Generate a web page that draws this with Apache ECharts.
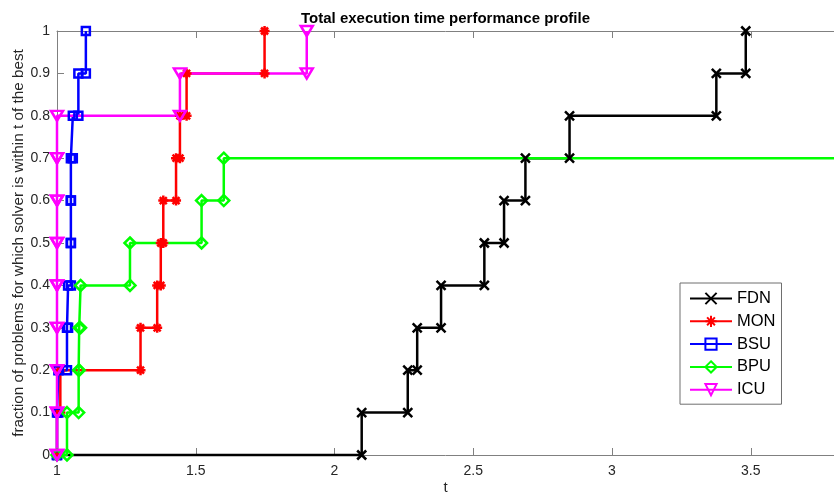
<!DOCTYPE html>
<html>
<head>
<meta charset="utf-8">
<script src="https://cdn.jsdelivr.net/npm/echarts@6/dist/echarts.min.js"></script>
<style>html,body{margin:0;padding:0;background:#fff}#c{width:834px;height:496px}</style>
</head>
<body>
<div id="c"></div>
<script>
// ---- data (performance ratios at which each problem is counted, sorted) ----
const solverNames = ['FDN', 'MON', 'BSU', 'BPU', 'ICU'];
const UNSOLVED = 10; // ratio used for problems a solver did not solve
const FDN = [2.098, 2.264, 2.298, 2.384, 2.540, 2.611, 2.688, 2.847, 3.376, 3.482];
const MON = [1.000, 1.012, 1.301, 1.361, 1.374, 1.383, 1.429, 1.443, 1.467, 1.748];
const BSU = [1.000, 1.005, 1.036, 1.040, 1.050, 1.050, 1.050, 1.057, 1.077, 1.104];
const BPU = [1.036, 1.078, 1.080, 1.085, 1.263, 1.521, 1.601, UNSOLVED, UNSOLVED, UNSOLVED];
const ICU = [1.000, 1.000, 1.000, 1.000, 1.000, 1.000, 1.000, 1.000, 1.443, 1.900];
const nProblems = 10;
const xTicks = [1, 1.5, 2, 2.5, 3, 3.5];
const yTicks = [0, 0.1, 0.2, 0.3, 0.4, 0.5, 0.6, 0.7, 0.8, 0.9, 1];
const xMin = 1, xMax = 3.8;

const ratios = { FDN, MON, BSU, BPU, ICU };

// stairs vertices (like MATLAB stairs with markers at every corner)
function stairs(ts) {
  const pts = [[xMin, 0]];
  ts.forEach((t, i) => {
    pts.push([t, i / nProblems]);
    pts.push([t, (i + 1) / nProblems]);
  });
  return pts;
}

const FONT = '"Liberation Sans", Arial, Helvetica, sans-serif';
const AX = '#808080';
const looks = {
  FDN: { color: '#000000', symbol: 'path://M0,0L10,10M10,0L0,10', size: 9 },
  MON: { color: '#ff0000', symbol: 'path://M5,0L5,10M0,5L10,5M1.5,1.5L8.5,8.5M8.5,1.5L1.5,8.5', size: 10 },
  BSU: { color: '#0000ff', symbol: 'rect', size: 8 },
  BPU: { color: '#00ff00', symbol: 'diamond', size: 11 },
  ICU: { color: '#ff00ff', symbol: 'triangle', size: [12, 10], rotate: 180 }
};

const series = solverNames.map(name => {
  const l = looks[name];
  return {
    name: name,
    type: 'line',
    data: stairs(ratios[name]),
    clip: false,
    showSymbol: true,
    symbol: l.symbol,
    symbolSize: l.size,
    symbolRotate: l.rotate || 0,
    lineStyle: { color: l.color, width: 2.5 },
    itemStyle: { color: 'rgba(255,255,255,0)', borderColor: l.color, borderWidth: 2.5 },
    emphasis: { disabled: true },
    animation: false
  };
});

const chart = echarts.init(document.getElementById('c'), null, { renderer: 'canvas' });
chart.setOption({
  animation: false,
  backgroundColor: '#ffffff',
  title: {
    text: 'Total execution time performance profile',
    left: 445.5, top: 11, padding: 0, textAlign: 'center',
    textStyle: { fontFamily: FONT, fontSize: 15, fontWeight: 'bold', color: '#000' }
  },
  grid: { left: 57, right: 0, top: 31, bottom: 41, containLabel: false, outerBoundsMode: 'none' },
  legend: {
    orient: 'vertical', left: 680, top: 283,
    padding: [7, 6, 6, 9],
    itemWidth: 42, itemHeight: 14, itemGap: 5.8,
    backgroundColor: '#ffffff', borderColor: '#6e6e6e', borderWidth: 1,
    textStyle: { fontFamily: FONT, fontSize: 16.5, lineHeight: 17, color: '#000' },
    data: solverNames
  },
  xAxis: [{
    type: 'value', min: xMin, max: xMax, interval: 0.5, position: 'bottom',
    axisLine: { show: true, onZero: false, lineStyle: { color: AX, width: 1 } },
    axisTick: { show: true, inside: true, length: 7, customValues: xTicks, lineStyle: { color: AX } },
    axisLabel: { customValues: xTicks, fontFamily: FONT, fontSize: 14, color: '#262626', margin: 9 },
    splitLine: { show: false },
    name: 't', nameLocation: 'middle', nameGap: 25, nameMoveOverlap: false,
    nameTextStyle: { fontFamily: FONT, fontSize: 15, color: '#262626' }
  }, {
    type: 'value', min: xMin, max: xMax, interval: 0.5, position: 'top',
    axisLine: { show: true, onZero: false, lineStyle: { color: AX, width: 1 } },
    axisTick: { show: true, inside: true, length: 7, customValues: xTicks, lineStyle: { color: AX } },
    axisLabel: { show: false },
    splitLine: { show: false }
  }],
  yAxis: [{
    type: 'value', min: 0, max: 1, interval: 0.1,
    axisLine: { show: true, onZero: false, lineStyle: { color: AX, width: 1 } },
    axisTick: { show: true, inside: true, length: 7, customValues: yTicks, lineStyle: { color: AX } },
    axisLabel: { customValues: yTicks, fontFamily: FONT, fontSize: 14, color: '#262626', margin: 7 },
    splitLine: { show: false },
    name: 'fraction of problems for which solver is within t of the best',
    nameLocation: 'middle', nameGap: 31, nameRotate: 90, nameMoveOverlap: false,
    nameTextStyle: { fontFamily: FONT, fontSize: 15.3, color: '#262626' }
  }],
  series: series
});
</script>
</body>
</html>
